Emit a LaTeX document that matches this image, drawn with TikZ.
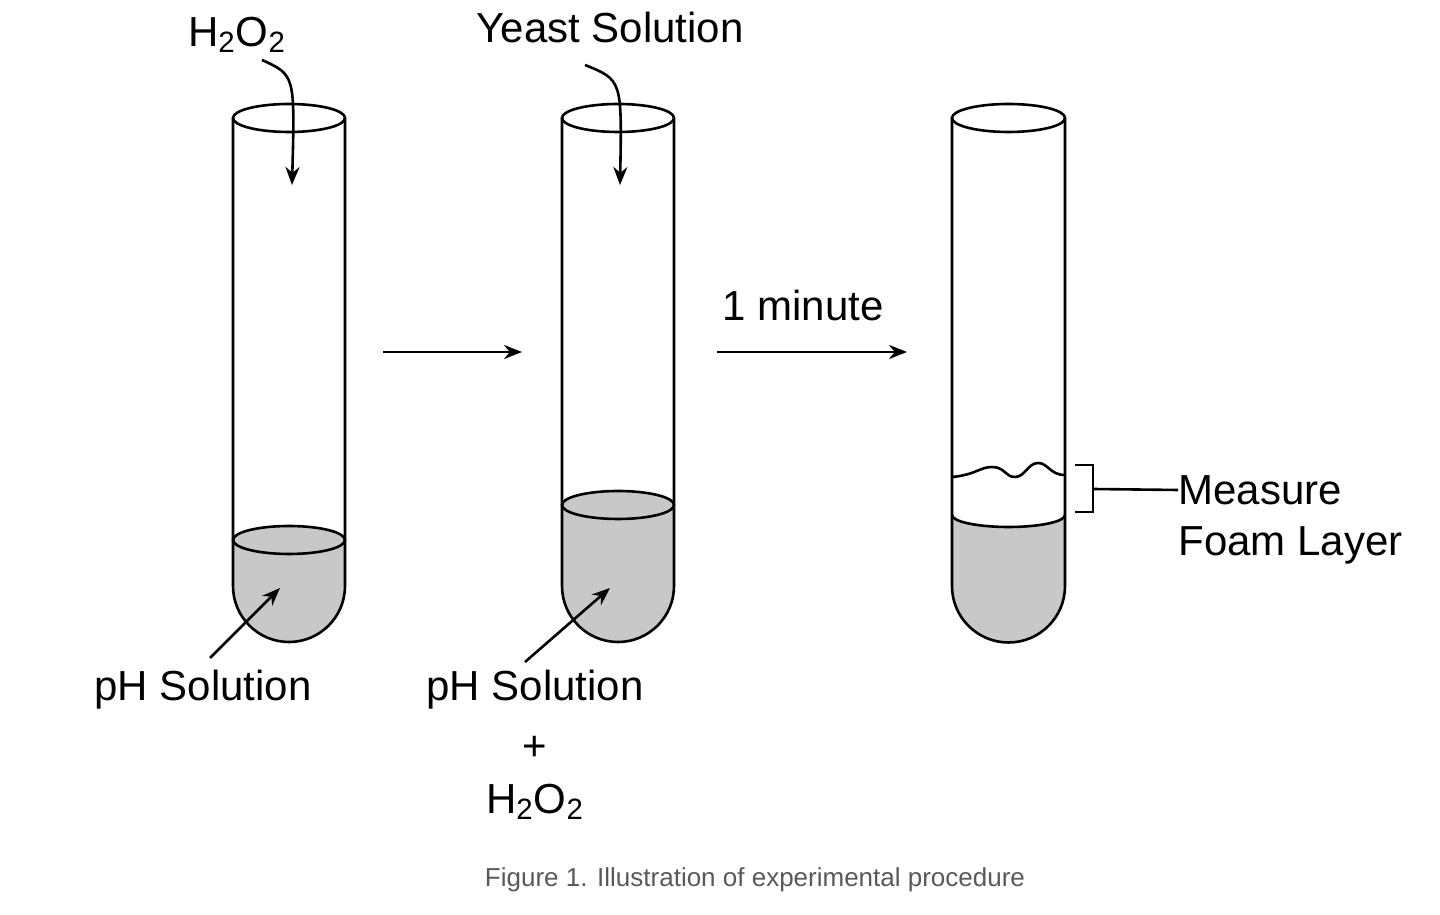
\documentclass[tikz,border=0pt]{standalone}
\usepackage{fontspec}
\setmainfont{Liberation Sans}
\usetikzlibrary{arrows.meta}
\definecolor{liq}{HTML}{C8C8C8}
\tikzset{x=0.5pt,y=0.5pt,
 lbl/.style={font=\fontsize{21}{25}\selectfont,inner sep=0pt},
 arr/.style={line width=1.3pt,-{Stealth[length=9pt,width=7pt]}},
 tubeline/.style={line width=1.3pt}}
\newcommand\tube[2]{%
 \fill[liq] (#1,#2) -- (#1,329) arc[start angle=180,end angle=360,radius=56] -- ({#1+112},#2) -- cycle;
 \draw[tubeline,fill=liq] ({#1+56},#2) ellipse[x radius=56,y radius=14];
 \draw[tubeline] ({#1+56},797) ellipse[x radius=56,y radius=14];
 \draw[tubeline] (#1,797) -- (#1,329) arc[start angle=180,end angle=360,radius=56] -- ({#1+112},797);}
\begin{document}
\begin{tikzpicture}
\useasboundingbox (0,0) rectangle (1440,915);
\tube{233}{375}
\tube{562}{410}
% tube 3
\fill[liq] (952,400) -- (952,329) arc[start angle=180,end angle=360,radius=56] -- (1065,400) arc[start angle=0,end angle=-180,x radius=56.5,y radius=12] -- cycle;
\draw[tubeline] (1065,400) arc[start angle=0,end angle=-180,x radius=56.5,y radius=12];
\draw[tubeline] (952,438) .. controls (975,440) and (980,448) .. (992,448) .. controls (1005,448) and (1005,438) .. (1015,438) .. controls (1025,438) and (1028,452) .. (1038,452) .. controls (1048,452) and (1050,440) .. (1065,440);
\draw[tubeline] (1008.5,797) ellipse[x radius=56.5,y radius=14];
\draw[tubeline] (952,797) -- (952,329) arc[start angle=180,end angle=360,radius=56.5] -- (1065,797);
% bracket
\coordinate (b1) at (1075,450); \coordinate (b2) at (1075,403);
\draw[line width=1.3pt] (b1) -- (1093,450) -- (1093,403) -- (b2);
\node[lbl,anchor=west] (m1) at (1178,425) {Measure};
\node[lbl,anchor=west] (m2) at (1178,370) {Foam Layer};
\draw[line width=1.3pt] (1093,426) -- (m1.west);
% arrows between tubes
\coordinate (a1) at (383,563); \coordinate (a2) at (522,563);
\coordinate (a3) at (717,563); \coordinate (a4) at (907,563);
\draw[arr] (a1) -- (a2);
\draw[arr] (a3) -- (a4);
\node[lbl] (min) at (803,610) {1 minute};
% top labels
\node[lbl] (h1) at (237,880) {H\textsubscript{2}O\textsubscript{2}};
\node[lbl] (ys) at (610,887) {Yeast Solution};
\coordinate (t1) at (292,730); \coordinate (t2) at (620,730);
\draw[arr] (262,855) .. controls (295,840) .. (t1);
\draw[arr] (585,850) .. controls (622,835) .. (t2);
% bottom labels
\node[lbl] (p1) at (203,225) {pH Solution};
\node[lbl] (p2) at (535,225) {pH Solution};
\node[lbl] (pl) at (535,167) {+};
\node[lbl] (h2) at (535,113) {H\textsubscript{2}O\textsubscript{2}};
\coordinate (l1) at (280,327); \coordinate (l2) at (610,327);
\draw[arr] (210,257) -- (l1);
\draw[arr] (525,253) -- (l2);
\node[font=\fontsize{13}{15}\selectfont,text=black!65,inner sep=0pt] (cap) at (755,35) {Figure 1. Illustration of experimental procedure};
\end{tikzpicture}
\end{document}
